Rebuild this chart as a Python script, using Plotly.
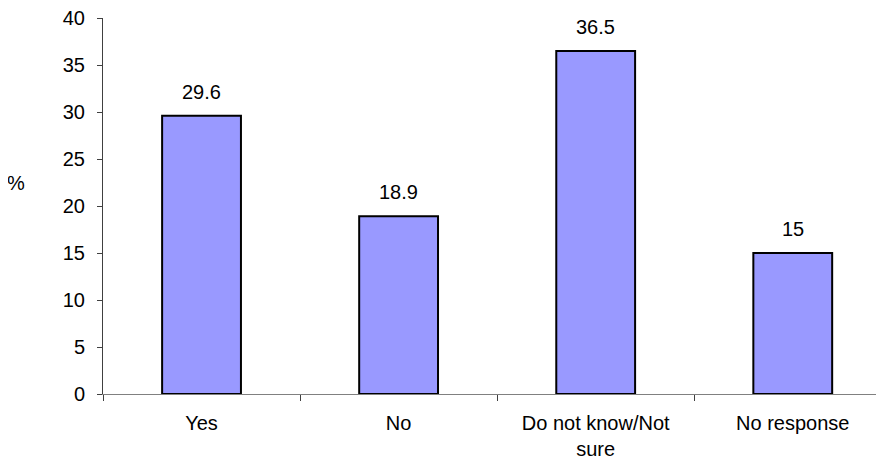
import plotly.graph_objects as go

categories = ["Yes", "No", "Do not know/Not<br>sure", "No response"]
values = [29.6, 18.9, 36.5, 15]
value_labels = ["29.6", "18.9", "36.5", "15"]
y_ticks = [0, 5, 10, 15, 20, 25, 30, 35, 40]

FONT = "Liberation Sans, Arial, sans-serif"

fig = go.Figure()
fig.add_trace(go.Bar(
    x=categories, y=values, width=0.4,
    marker=dict(color="#9999FF", line=dict(color="#000000", width=2)),
    hoverinfo="skip",
))

for c, v, t in zip(categories, values, value_labels):
    fig.add_annotation(x=c, y=v, text=t, showarrow=False, yanchor="bottom",
                       yshift=11, font=dict(family=FONT, size=20, color="#000"))

fig.add_annotation(xref="paper", yref="paper", x=-0.1114, y=0.56, text="%",
                   showarrow=False, xanchor="center", yanchor="middle",
                   font=dict(family=FONT, size=20, color="#000"))

fig.update_layout(
    width=884, height=461,
    margin=dict(l=95, r=8, t=10, b=75, autoexpand=False),
    paper_bgcolor="white", plot_bgcolor="white",
    showlegend=False,
    font=dict(family=FONT, size=20, color="#000"),
    xaxis=dict(
        type="category", range=[-0.5, 3.463], automargin=False,
        showline=True, linecolor="#808080", linewidth=1,
        ticks="outside", tickson="boundaries", ticklen=6,
        tickcolor="#404040", tickwidth=1, ticklabelstandoff=11,
        ticklabeloverflow="allow",
        showgrid=False, zeroline=False,
        tickfont=dict(family=FONT, size=20, color="#000"),
    ),
    yaxis=dict(
        range=[0, 40], tickmode="array", tickvals=y_ticks, automargin=False,
        ticktext=[str(t) for t in y_ticks],
        showline=True, linecolor="#404040", linewidth=1,
        ticks="outside", ticklen=5, tickcolor="#404040", ticklabelstandoff=8,
        ticklabeloverflow="allow",
        showgrid=False, zeroline=False,
        tickfont=dict(family=FONT, size=20, color="#000"),
    ),
)

fig.write_html("out.html")
